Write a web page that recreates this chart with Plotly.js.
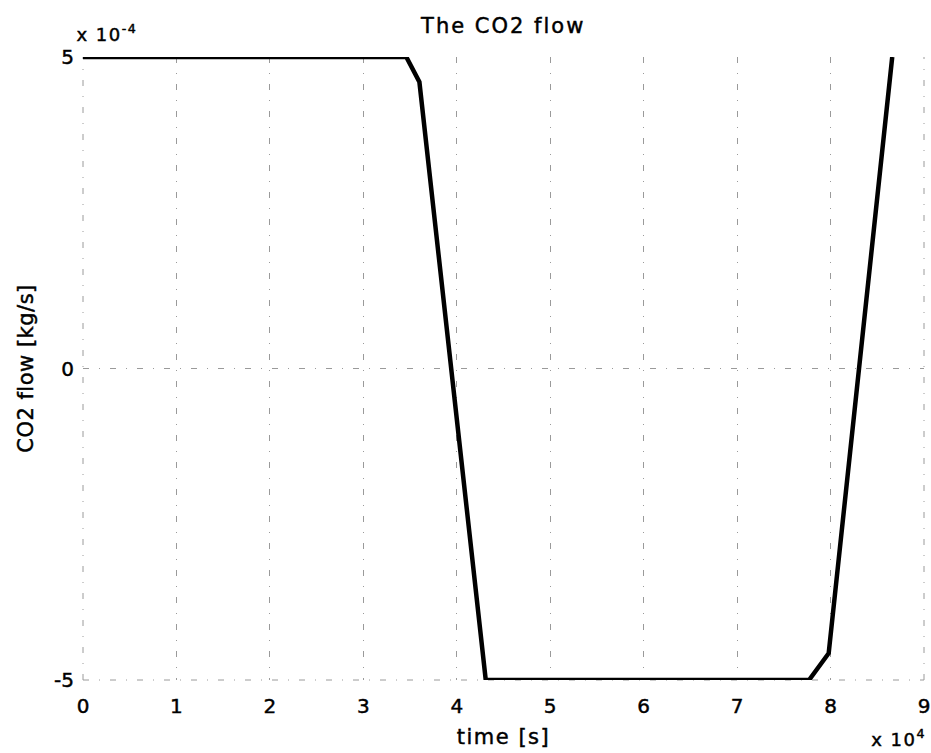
<!DOCTYPE html>
<html>
<head>
<meta charset="utf-8">
<script src="https://cdn.plot.ly/plotly-3.0.1.min.js"></script>
<style>
html,body{margin:0;padding:0;background:#fff;}
#chart{width:931px;height:753px;}
#chart .gtitle{letter-spacing:2px;}
#chart .xtitle{letter-spacing:1.5px;}
#chart .ytitle{letter-spacing:0.5px;}
#chart .annotation-text{letter-spacing:1.5px;}
#chart text{stroke:#000 !important;stroke-width:0.45px !important;}
</style>
</head>
<body>
<div id="chart"></div>
<script>
// time [s]
var timeS = [0, 34600, 36000, 43100, 77700, 79800, 86600];
// CO2 flow [kg/s]
var co2Flow = [5e-4, 5e-4, 4.6e-4, -5e-4, -5e-4, -4.57e-4, 5e-4];
var xTickVals = [0, 10000, 20000, 30000, 40000, 50000, 60000, 70000, 80000, 90000];
var xTickText = ['0', '1', '2', '3', '4', '5', '6', '7', '8', '9'];
var yTickVals = [-5e-4, 0, 5e-4];
var yTickText = ['-5', '0', '5'];

var font = 'DejaVu Sans, Liberation Sans, Arial, sans-serif';
var gridCol = '#9a9a9a';
var gridDash = '6px,10px,1px,10px';
var trace = {
  x: timeS, y: co2Flow, mode: 'lines', type: 'scatter',
  line: {color: '#000', width: 4.5}, cliponaxis: false, hoverinfo: 'none'
};
function edge(x0, y0, x1, y1) {
  return {type: 'line', xref: 'paper', yref: 'paper', x0: x0, y0: y0, x1: x1, y1: y1,
          line: {color: gridCol, width: 1, dash: gridDash}, layer: 'below'};
}
var layout = {
  width: 931, height: 753,
  margin: {l: 83, r: 7, t: 57, b: 73},
  paper_bgcolor: '#fff', plot_bgcolor: '#fff',
  showlegend: false,
  title: {text: 'The CO2 flow', x: 0.5405, xanchor: 'center', y: 0.966, yanchor: 'middle',
          font: {family: font, size: 21, color: '#000'}},
  xaxis: {
    range: [0, 90000], tickvals: xTickVals, ticktext: xTickText,
    showgrid: true, gridcolor: gridCol, griddash: gridDash, gridwidth: 1,
    zeroline: false, showline: false, ticks: '', ticklabelstandoff: 12,
    tickfont: {family: font, size: 20, color: '#000'},
    title: {text: 'time [s]', font: {family: font, size: 21, color: '#000'}, standoff: 12}
  },
  yaxis: {
    range: [-5e-4, 5e-4], tickvals: yTickVals, ticktext: yTickText,
    showgrid: true, gridcolor: gridCol, griddash: gridDash, gridwidth: 1,
    zeroline: false, showline: false, ticks: '', ticklabelstandoff: 8,
    tickfont: {family: font, size: 20, color: '#000'},
    title: {text: 'CO2 flow [kg/s]', font: {family: font, size: 21, color: '#000'}, standoff: 14}
  },
  shapes: [edge(0, 0, 0, 1), edge(1, 0, 1, 1), edge(0, 0, 1, 0)],
  annotations: [
    {text: 'x 10<sup>-4</sup>', xref: 'paper', yref: 'paper', x: 0, y: 1, xanchor: 'left', yanchor: 'bottom',
     yshift: 10, xshift: -4, showarrow: false, font: {family: font, size: 18, color: '#000'}},
    {text: 'x 10<sup>4</sup>', xref: 'paper', yref: 'paper', x: 1, y: 0, xanchor: 'right', yanchor: 'bottom',
     yshift: -72, xshift: 0, showarrow: false, font: {family: font, size: 18, color: '#000'}}
  ]
};
Plotly.newPlot('chart', [trace], layout, {displayModeBar: false, staticPlot: true});
</script>
</body>
</html>
